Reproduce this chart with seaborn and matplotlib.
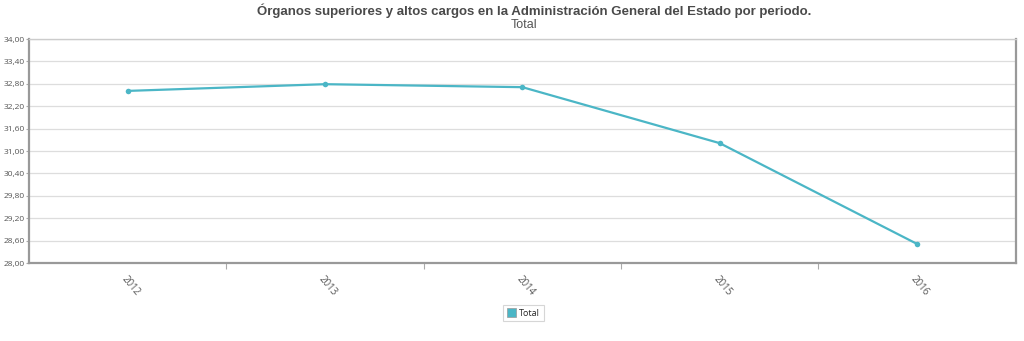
import matplotlib
matplotlib.use("Agg")
import matplotlib.pyplot as plt
import seaborn as sns
import pandas as pd
from matplotlib.patches import Patch

years = ["2012", "2013", "2014", "2015", "2016"]
values = [32.61, 32.79, 32.71, 31.21, 28.51]
series_name = "Total"
yticks = [28.0, 28.6, 29.2, 29.8, 30.4, 31.0, 31.6, 32.2, 32.8, 33.4, 34.0]

sns.set_theme(style="white")
plt.rcParams['font.family'] = ['Open Sans', 'DejaVu Sans']

df = pd.DataFrame({"year": years, "value": values, "serie": series_name})
color = "#4BB6C6"

fig = plt.figure(figsize=(10.24, 3.41), dpi=100)
ax = fig.add_axes([0.0283, 0.2287, 0.9637, 0.6569])

sns.lineplot(data=df, x="year", y="value", ax=ax, color=color, linewidth=1.6,
             marker="o", markersize=4, markeredgewidth=0, sort=False, legend=False)

ax.set_xlim(-0.5, 4.5)
ax.set_ylim(28, 34)
ax.set_yticks(yticks)
ax.set_yticklabels([f"{v:.2f}".replace(".", ",") for v in yticks], fontsize=6, color="#555555")
ax.set_xticks(range(len(years)))
ax.set_xticklabels(years, rotation=-50, ha="left", rotation_mode="anchor", fontsize=7, color="#555555")
ax.set_xticks([i + 0.5 for i in range(len(years) - 1)], minor=True)
ax.tick_params(axis="x", which="major", length=0, pad=8)
ax.tick_params(axis="x", which="minor", length=4, color="#aaaaaa", width=0.8, bottom=True)
ax.tick_params(axis="y", length=2, color="#aaaaaa", width=0.8, left=True, pad=1)
ax.grid(axis="y", color="#dddddd", linewidth=0.9)
ax.set_axisbelow(True)
ax.set_xlabel("")
ax.set_ylabel("")
for s in ["left", "bottom", "right"]:
    ax.spines[s].set_color("#999999")
    ax.spines[s].set_linewidth(1.6)
ax.spines["top"].set_color("#cccccc")
ax.spines["top"].set_linewidth(1.0)

fig.text(0.522, 0.968, "Órganos superiores y altos cargos en la Administración General del Estado por periodo.",
         ha="center", va="center", fontsize=9.5, fontweight="bold", color="#4a4a4a",
         family=["Liberation Sans", "DejaVu Sans"])
fig.text(0.512, 0.928, "Total", ha="center", va="center", fontsize=9, color="#555555",
         family=["Liberation Sans", "DejaVu Sans"])

handle = Patch(facecolor=color, edgecolor="#999999", linewidth=0.5)
leg = fig.legend([handle], [series_name], loc="center", bbox_to_anchor=(0.511, 0.082),
                 fontsize=6.5, frameon=True, handlelength=1.0, handleheight=1.0,
                 handletextpad=0.4, borderpad=0.4, fancybox=False)
leg.get_frame().set_edgecolor("#cccccc")
leg.get_frame().set_linewidth(0.8)

fig.savefig("out.png", dpi=100)
